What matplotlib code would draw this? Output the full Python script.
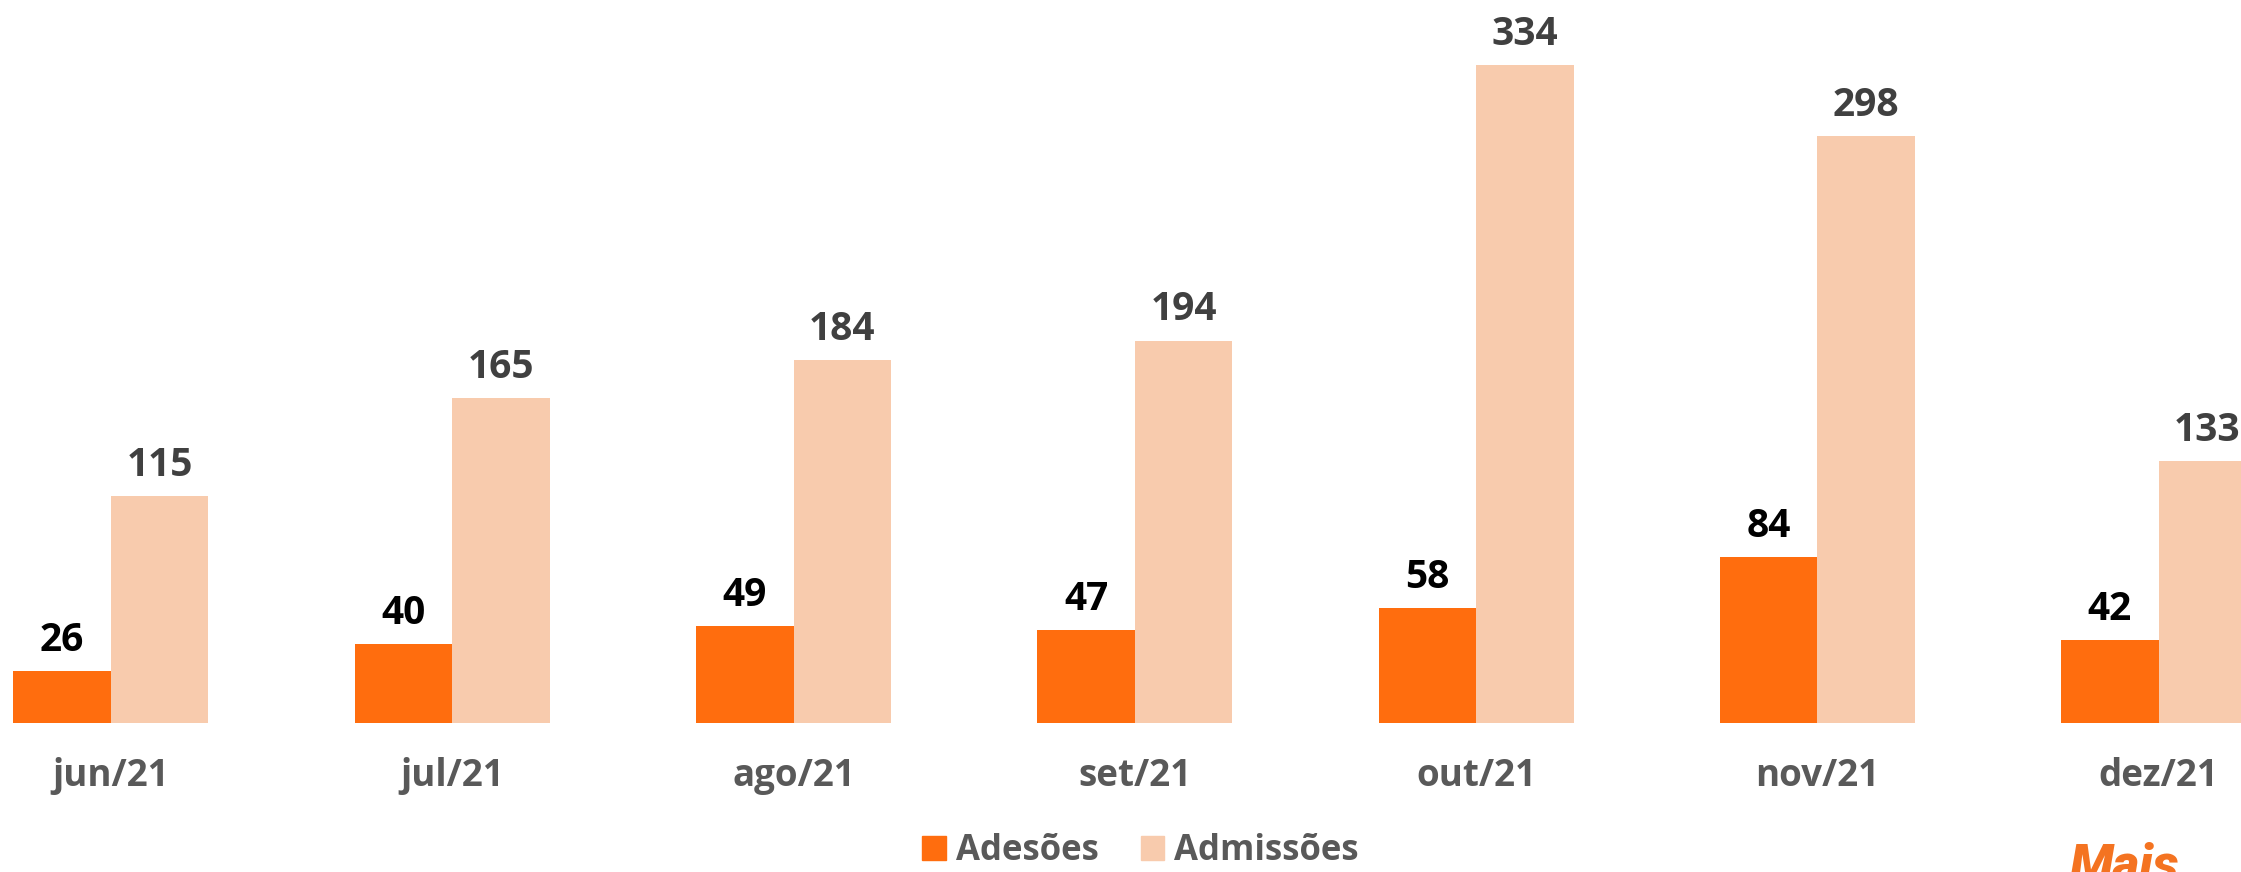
import matplotlib.pyplot as plt
import numpy as np
from matplotlib.patches import Patch

months = ["jun/21", "jul/21", "ago/21", "set/21", "out/21", "nov/21", "dez/21"]
adesoes = [26, 40, 49, 47, 58, 84, 42]
admissoes = [115, 165, 184, 194, 334, 298, 133]

c_ades = "#FF6D0E"
c_adm = "#F8CBAD"
gray = "#595959"

plt.rcParams["font.family"] = ["Open Sans", "DejaVu Sans"]

fig = plt.figure(figsize=(22.41, 8.72), dpi=100)
ax = fig.add_axes([0, 0.1712, 1, 0.8288])

x = np.arange(len(months))
w = 0.2857
b1 = ax.bar(x - w / 2, adesoes, w, color=c_ades, label="Adesões")
b2 = ax.bar(x + w / 2, admissoes, w, color=c_adm, label="Admissões")

ax.bar_label(b1, padding=8, fontsize=28, fontweight="bold", color="black")
ax.bar_label(b2, padding=8, fontsize=28, fontweight="bold", color="#404040")

ax.set_xlim(-0.325, 6.241)
ax.set_ylim(0, 366.9)
ax.set_xticks(x)
ax.set_xticklabels(months, fontsize=26.5, fontweight="bold", color=gray)
ax.tick_params(axis="x", length=0, pad=25)
ax.set_yticks([])
for s in ax.spines.values():
    s.set_visible(False)

handles = [Patch(color=c_ades), Patch(color=c_adm)]
fig.legend(handles, ["Adesões", "Admissões"], loc="center",
           bbox_to_anchor=(0.509, 0.024), ncol=2, frameon=False,
           prop={"size": 25, "weight": "bold"}, labelcolor=gray,
           handlelength=0.67, handleheight=0.67, handletextpad=0.3,
           columnspacing=1.2, borderpad=0)

fig.text(2070 / 2241, 1 - 841 / 872, "Mais", fontsize=37, fontweight="black",
         style="italic", color="#F47321", family=["Roboto", "DejaVu Sans"],
         ha="left", va="top")

fig.savefig("out.png", dpi=100)
